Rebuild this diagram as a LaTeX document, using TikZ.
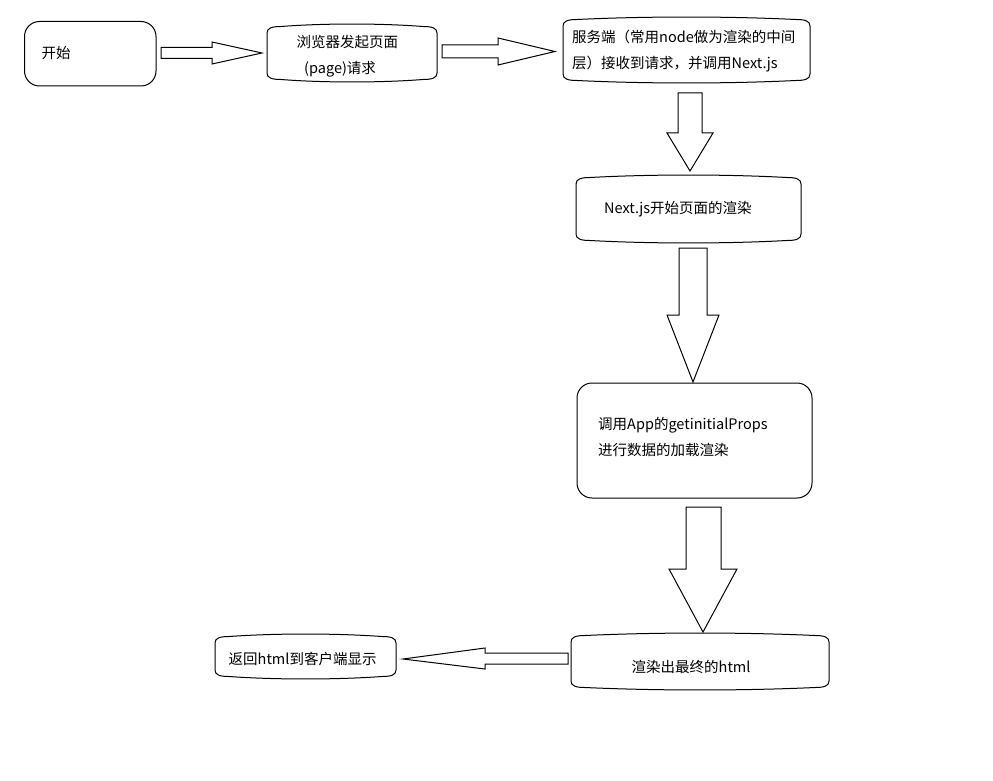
\documentclass[tikz,border=0pt]{standalone}
\usepackage{fontspec}
\setmainfont{Noto Sans CJK SC}
\newcommand\myterm[4]{%
  \draw[outline] (#1,#2+9) .. controls (#1,#2+4) and (#1+5,#2+2.5) .. (#1+14,#2+2.5)
    .. controls ({#1+(#3-#1)/3},#2-0.8) and ({#3-(#3-#1)/3},#2-0.8) .. (#3-14,#2+2.5)
    .. controls (#3-5,#2+2.5) and (#3,#2+4) .. (#3,#2+9)
    -- (#3,#4-9) .. controls (#3,#4-4) and (#3-5,#4-2.5) .. (#3-14,#4-2.5)
    .. controls ({#3-(#3-#1)/3},#4+0.8) and ({#1+(#3-#1)/3},#4+0.8) .. (#1+14,#4-2.5)
    .. controls (#1+5,#4-2.5) and (#1,#4-4) .. (#1,#4-9) -- cycle;}
\begin{document}
\begin{tikzpicture}[x=1pt,y=-1pt,
  outline/.style={draw=black,line width=1pt,line join=miter},
  rbox/.style={draw=black,line width=1pt,rounded corners=15pt,inner sep=0pt},
  lbl/.style={anchor=base west,inner sep=0pt,font=\fontsize{14.5pt}{17pt}\selectfont}]
\useasboundingbox[fill=white] (0,0) rectangle (993,781);

% rounded boxes
\node[rbox,minimum width=131.5pt,minimum height=64.5pt] (b1) at (90.25,53.75) {};
\node[rbox,minimum width=235pt,minimum height=115pt] (b5) at (694.5,440.5) {};

% terminator-like boxes
\myterm{267}{24}{437}{82}
\myterm{563}{17}{810}{83}
\myterm{576}{175}{801}{243}
\myterm{571}{633}{829}{690}
\myterm{215}{634}{396}{679}

% texts
\node[lbl] (t1) at (41.5,58.5) {开始};
\node[lbl] (t2a) at (296.5,47.5) {浏览器发起页面};
\node[lbl] (t2b) at (304,73.5) {(page)请求};
\node[lbl] (t3a) at (572,42.5) {服务端（常用node做为渲染的中间};
\node[lbl] (t3b) at (572,68.5) {层）接收到请求，并调用Next.js};
\node[lbl] (t4) at (604,213) {Next.js开始页面的渲染};
\node[lbl] (t5a) at (598,429) {调用App的getinitialProps};
\node[lbl] (t5b) at (598,455.5) {进行数据的加载渲染};
\node[lbl] (t6) at (631.5,672.5) {渲染出最终的html};
\node[lbl] (t7) at (228.5,664.5) {返回html到客户端显示};

% block arrows
\draw[outline] (161,47.5) -- (212,47.5) -- (212,42) -- (262,53) -- (212,64) -- (212,58.5) -- (161,58.5) -- cycle;
\draw[outline] (442,45) -- (498,45) -- (498,38) -- (555,51.5) -- (498,65) -- (498,58) -- (442,58) -- cycle;
\draw[outline] (678,93) -- (702,93) -- (702,133) -- (713,133) -- (690,171) -- (667,133) -- (678,133) -- cycle;
\draw[outline] (679,248) -- (707,248) -- (707,315) -- (719,315) -- (693,382) -- (667,315) -- (679,315) -- cycle;
\draw[outline] (686,507) -- (721,507) -- (721,569) -- (737,569) -- (703,632) -- (669,569) -- (686,569) -- cycle;
\draw[outline] (568,653) -- (485,653) -- (485,648) -- (403,659) -- (485,669) -- (485,664) -- (568,664) -- cycle;
\end{tikzpicture}
\end{document}
